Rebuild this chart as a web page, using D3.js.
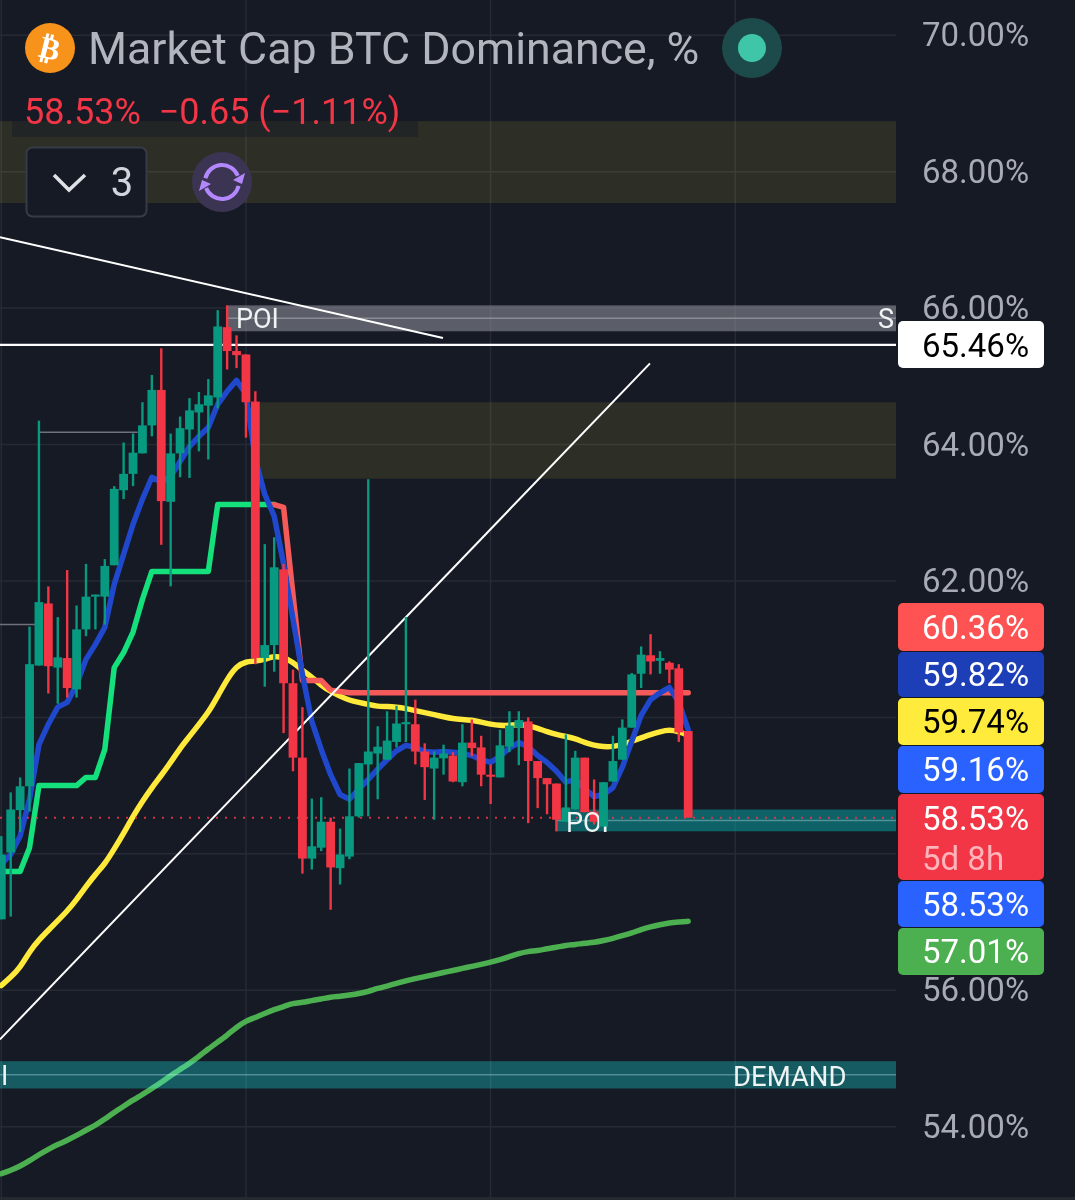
<!DOCTYPE html>
<html>
<head>
<meta charset="utf-8">
<script src="https://cdn.jsdelivr.net/npm/d3@7"></script>
<style>
body { margin: 0; background: #161a25; }
svg { display: block; font-family: Roboto, sans-serif; }
</style>
</head>
<body>
<svg id="chart" width="1075" height="1200"></svg>
<script>
// candles, one per period (percent)
var opens = [57.04,58.02,58.64,58.99,60.76,61.67,60.73,60.87,60.41,61.29,61.77,61.77,62.23,63.33,63.57,63.87,64.28,64.80,63.16,63.87,64.22,64.47,64.57,64.69,65.72,65.37,65.32,64.63,60.87,61.06,62.17,60.50,59.41,57.93,58.09,58.47,57.79,57.96,58.55,59.31,59.47,59.38,59.64,59.90,59.90,59.50,59.25,59.40,59.44,59.05,59.63,59.56,59.16,59.12,59.57,59.85,59.94,59.36,59.11,59.03,58.47,58.65,59.41,58.62,58.40,59.06,59.38,59.85,60.64,60.91,60.83,60.80,60.72,59.80];
var highs = [58.26,58.90,59.12,61.33,64.35,61.92,61.47,62.16,61.64,62.25,61.80,62.32,63.39,64.03,64.16,64.62,65.02,65.41,64.16,64.41,64.68,64.77,64.96,65.97,66.04,65.60,65.32,64.78,62.54,62.64,62.25,60.70,60.15,58.81,58.83,58.53,58.37,59.25,59.33,63.49,59.87,60.09,60.17,61.47,60.26,59.62,59.50,59.60,59.49,59.90,59.97,59.73,59.31,59.82,60.09,60.09,60.00,59.36,59.11,59.03,59.75,59.51,59.41,59.09,59.05,59.73,59.97,60.65,61.04,61.22,60.97,60.82,60.78,59.80];
var lows = [57.04,57.08,58.32,58.62,60.76,60.35,60.20,60.29,60.29,61.19,61.29,61.36,62.23,63.20,63.39,63.87,64.12,62.53,61.92,63.52,63.51,63.90,63.78,64.53,65.10,65.12,64.10,60.78,60.45,60.67,59.77,59.21,57.71,57.77,58.04,57.18,57.55,57.92,58.53,58.55,58.80,59.38,59.56,59.64,59.31,58.79,58.50,59.16,59.05,58.99,59.43,58.99,58.73,59.12,59.49,59.30,58.45,58.67,58.58,58.33,58.47,58.65,58.61,58.43,58.40,59.06,59.38,59.85,60.43,60.63,60.64,60.50,59.64,58.53];
var closes = [57.99,58.65,58.99,60.78,61.69,60.75,60.88,60.43,61.29,61.77,61.80,62.22,63.35,63.57,63.88,64.28,64.80,63.17,63.87,64.24,64.50,64.59,64.72,65.73,65.37,65.31,64.62,60.87,61.06,62.20,60.50,59.41,57.93,58.11,58.47,57.80,57.99,58.55,59.33,59.50,59.57,59.66,59.91,59.93,59.50,59.27,59.41,59.47,59.06,59.63,59.55,59.16,59.13,59.59,59.88,59.96,59.36,59.11,59.02,58.50,58.68,59.41,58.61,58.47,59.05,59.36,59.85,60.63,60.92,60.82,60.87,60.70,59.78,58.53];

// moving averages
var blueMA = [57.85,57.99,58.26,58.80,59.60,59.90,60.15,60.22,60.48,60.85,61.07,61.32,61.95,62.39,62.83,63.20,63.52,63.45,63.53,63.75,63.97,64.12,64.25,64.59,64.78,64.94,64.74,63.78,63.27,62.95,62.25,61.44,60.63,59.94,59.53,59.16,58.87,58.80,58.95,59.09,59.24,59.38,59.51,59.59,59.56,59.50,59.49,59.50,59.49,59.47,59.44,59.38,59.34,59.43,59.55,59.63,59.57,59.44,59.34,59.21,59.05,59.09,58.95,58.84,58.87,58.97,59.27,59.65,60.03,60.26,60.36,60.44,60.22,59.82];
var yellowMA = [56.07,56.19,56.33,56.57,56.74,56.88,57.02,57.16,57.33,57.52,57.70,57.85,58.07,58.30,58.55,58.77,58.97,59.15,59.34,59.55,59.72,59.90,60.07,60.31,60.56,60.75,60.82,60.82,60.85,60.90,60.88,60.81,60.69,60.59,60.47,60.38,60.31,60.25,60.22,60.19,60.16,60.16,60.15,60.13,60.10,60.07,60.04,60.01,59.98,59.97,59.96,59.93,59.90,59.88,59.88,59.90,59.88,59.84,59.79,59.75,59.72,59.69,59.63,59.59,59.57,59.57,59.60,59.65,59.70,59.75,59.79,59.82,59.79,59.74];
var longMA = [53.31,53.36,53.42,53.50,53.59,53.67,53.74,53.80,53.87,53.95,54.02,54.11,54.21,54.30,54.39,54.47,54.56,54.65,54.75,54.84,54.93,55.03,55.14,55.24,55.34,55.46,55.55,55.60,55.66,55.72,55.76,55.81,55.82,55.85,55.87,55.90,55.91,55.93,55.95,55.98,56.03,56.06,56.10,56.14,56.17,56.20,56.23,56.26,56.29,56.32,56.35,56.38,56.41,56.45,56.49,56.54,56.57,56.58,56.61,56.63,56.66,56.67,56.69,56.70,56.73,56.76,56.80,56.84,56.89,56.93,56.96,56.99,57.00,57.01];

// trailing stop, green while below price, red after it flips (starts at candle 29)
var stopUp = [57.74,57.74,57.74,58.09,59.00,59.00,59.00,59.00,59.00,59.12,59.12,59.53,60.73,60.95,61.25,61.73,62.14,62.14,62.14,62.14,62.14,62.14,62.14,63.12,63.12,63.12,63.12,63.12,63.12,63.12];
var stopDown = [63.12,63.08,61.80,60.54,60.54,60.54,60.40,60.38,60.36,60.36,60.36,60.36,60.36,60.36,60.36,60.36,60.36,60.36,60.36,60.36,60.36,60.36,60.36,60.36,60.36,60.36,60.36,60.36,60.36,60.36,60.36,60.36,60.36,60.36,60.36,60.36,60.36,60.36,60.36,60.36,60.36,60.36,60.36,60.36,60.36];

var gridTicks = [70,68,66,64,62,60,58,56,54];
var axisTicks = [70,68,66,64,62,56,54];	// 60 and 58 sit behind the tags
var gridIdx = [0,26,52,78];

// zones: start candle, top and bottom value
var zoneOlive = [[-1,68.74,67.54],[27,64.62,63.50]];
var zoneGrey = [[24,66.04,65.66]];
var zoneTeal = [[58.9,58.65,58.33]];
var zoneDemand = [[-1,54.96,54.56]];

// drawn lines: [idx1, val1, idx2, val2]
var whiteLines = [[-0.14,67.04,46.94,65.56],[-0.14,55.28,68.94,65.19]];
var greyLines = [[4,64.18,14.5,64.18],[-0.14,61.36,3.6,61.36]];
var lastHigh = 65.46;
var lastClose = 58.53;

// axis tags: label, color, text color, top, bottom
var tagLabels = ["60.36%","59.82%","59.74%","59.16%","58.53%","58.53%","57.01%"];
var tagColors = ["#ff5252","#1c3fb8","#ffeb3b","#2962ff","#f23645","#2962ff","#4caf50"];
var tagText = ["#fff","#fff","#000","#fff","#fff","#fff","#fff"];
var tagTops = [603,652,698,746,794,881,928];
var tagBottoms = [651,697,745,793,880,927,975];

var bg = "#161a25", up = "#089981", down = "#f23645", gridCol = "#262a35";
var plotRight = 896;
var tagFont = 33;

var svg = d3.select("#chart");
var x = d3.scaleLinear().domain([0,73]).range([1.3,688.2]);
var y = d3.scaleLinear().domain([54,70]).range([1126.7,35.2]);

svg.append("rect").attr("width",1075).attr("height",1200).attr("fill",bg);

// grid
svg.append("g").selectAll("line").data(gridTicks).join("line")
	.attr("x1",0).attr("x2",plotRight).attr("y1",d=>y(d)).attr("y2",d=>y(d))
	.attr("stroke",gridCol).attr("stroke-width",1.5);
svg.append("g").selectAll("line").data(gridIdx).join("line")
	.attr("x1",d=>x(d)).attr("x2",d=>x(d)).attr("y1",0).attr("y2",1200)
	.attr("stroke",gridCol).attr("stroke-width",1.5);

function drawZones(data, fill, opacity, midCol, blend){
	var g = svg.append("g");
	if(blend) g.style("mix-blend-mode",blend);
	g.selectAll("rect").data(data).join("rect")
		.attr("x",d=>Math.max(0,x(d[0]))).attr("y",d=>y(d[1]))
		.attr("width",d=>plotRight-Math.max(0,x(d[0]))).attr("height",d=>y(d[2])-y(d[1]))
		.attr("fill",fill).attr("opacity",opacity);
	if(midCol){
		g.selectAll("line").data(data).join("line")
			.attr("x1",d=>Math.max(0,x(d[0]))).attr("x2",plotRight)
			.attr("y1",d=>y((d[1]+d[2])/2)).attr("y2",d=>y((d[1]+d[2])/2))
			.attr("stroke",midCol).attr("stroke-width",1.5);
	}
}
drawZones(zoneOlive,"#ffeb3b",0.1);
drawZones(zoneGrey,"#9598a1",0.55,"#8a8c94");

// thin grey lines
svg.append("g").selectAll("line").data(greyLines).join("line")
	.attr("x1",d=>x(d[0])).attr("y1",d=>y(d[1])).attr("x2",d=>x(d[2])).attr("y2",d=>y(d[3]))
	.attr("stroke","#6f727c").attr("stroke-width",1.5);

// indicators
function drawLine(values, start, color, width, curve){
	svg.append("path").datum(values)
		.attr("fill","none").attr("stroke",color).attr("stroke-width",width)
		.attr("stroke-linejoin","round").attr("stroke-linecap","round")
		.attr("d",d3.line().x((d,i)=>x(i+start)).y(d=>y(d)).curve(curve || d3.curveLinear));
}
drawLine(longMA,0,"#4caf50",5.5,d3.curveBasis);
drawLine(yellowMA,0,"#ffe93b",5.5,d3.curveBasis);
drawLine(stopUp,0,"#14e07c",5.5);
drawLine(stopDown,29,"#f55a5a",5.5);
drawLine(blueMA,0,"#1f48cc",5.5);

drawZones(zoneTeal,"#0a9c9c",0.55,"#4f9297");
drawZones(zoneDemand,"#004846",1,"#3f7f85","screen");

svg.append("line").attr("x1",0).attr("x2",plotRight).attr("y1",y(lastClose)).attr("y2",y(lastClose))
	.attr("stroke",down).attr("stroke-width",2).attr("stroke-dasharray","2 7").attr("opacity",0.85);

// white drawings
svg.append("g").selectAll("line").data(whiteLines).join("line")
	.attr("x1",d=>x(d[0])).attr("y1",d=>y(d[1])).attr("x2",d=>x(d[2])).attr("y2",d=>y(d[3]))
	.attr("stroke","#fff").attr("stroke-width",2);
svg.append("line").attr("x1",0).attr("x2",plotRight).attr("y1",y(lastHigh)).attr("y2",y(lastHigh))
	.attr("stroke","#fff").attr("stroke-width",2.4);

// candles
var candles = opens.map((o,i)=>({i:i,o:o,h:highs[i],l:lows[i],c:closes[i]}));
function drawCandles(data){
	var g = svg.append("g").selectAll("g").data(data).join("g")
		.attr("fill",d=>d.c>=d.o?up:down).attr("stroke",d=>d.c>=d.o?up:down);
	g.append("line").attr("x1",d=>x(d.i)).attr("x2",d=>x(d.i))
		.attr("y1",d=>y(d.h)).attr("y2",d=>y(d.l)).attr("stroke-width",2.4);
	g.append("rect").attr("x",d=>x(d.i)-4.4).attr("width",8.8).attr("stroke","none")
		.attr("y",d=>y(Math.max(d.o,d.c)))
		.attr("height",d=>Math.max(2,Math.abs(y(d.o)-y(d.c))));
}
drawCandles(candles.slice(0,64));

// zone labels
function zoneText(txt, px, py, size){
	svg.append("text").attr("x",px).attr("y",py).attr("dy","0.36em")
		.attr("fill","#eef3f4").attr("font-size",size).text(txt);
}
zoneText("POI",236,318,27);
zoneText("S",878,318,27);
zoneText("POI",566,822,27);
zoneText("DEMAND",733,1076,27.5);
zoneText("I",1,1075,27);
drawCandles(candles.slice(64));

// price axis
var axis = d3.axisRight(y).tickValues(axisTicks).tickSize(0).tickPadding(0).tickFormat(d=>d.toFixed(2)+"%");
var axisG = svg.append("g").attr("transform","translate(922,0)").call(axis);
axisG.select(".domain").remove();
axisG.selectAll("text").attr("font-family","Roboto, sans-serif").attr("font-size",tagFont).attr("fill","#a8abb6");

// last high tag
svg.append("rect").attr("x",898).attr("y",321).attr("width",146).attr("height",47).attr("rx",5).attr("fill","#fff");
svg.append("text").attr("x",922).attr("y",345).attr("dy","0.35em").attr("font-size",tagFont).attr("fill","#000").text(lastHigh.toFixed(2)+"%");

// axis tags
var tags = svg.append("g").selectAll("g").data(tagLabels).join("g");
tags.append("rect").attr("x",898).attr("width",146).attr("rx",5)
	.attr("y",(d,i)=>tagTops[i]).attr("height",(d,i)=>tagBottoms[i]-tagTops[i])
	.attr("fill",(d,i)=>tagColors[i]);
tags.append("text").attr("x",922).attr("font-size",tagFont).attr("dy","0.35em")
	.attr("y",(d,i)=>i==4?818:(tagTops[i]+tagBottoms[i])/2)
	.attr("fill",(d,i)=>tagText[i]).text(d=>d);
svg.append("text").attr("x",922).attr("y",858).attr("dy","0.35em").attr("font-size",tagFont)
	.attr("fill","#ffb3ba").text("5d 8h");

// legend header
svg.append("rect").attr("x",12).attr("y",80).attr("width",406).attr("height",57).attr("fill",bg).attr("opacity",0.45);
svg.append("circle").attr("cx",50).attr("cy",48).attr("r",25).attr("fill","#f7931a");
svg.append("text").attr("x",50).attr("y",48).attr("dy","0.36em").attr("text-anchor","middle")
	.attr("font-family","DejaVu Sans").attr("font-weight","bold").attr("font-size",31).attr("fill","#fff")
	.attr("transform","rotate(14 50 48)").text("\u20BF");
svg.append("text").attr("x",88).attr("y",48).attr("dy","0.36em").attr("font-size",44.7).attr("fill","#b2b5be")
	.text("Market Cap BTC Dominance, %");
svg.append("text").attr("x",24).attr("y",111).attr("dy","0.36em").attr("font-size",36).attr("fill",down)
	.style("white-space","pre").text("58.53%  \u22120.65 (\u22121.11%)");

// live dot
svg.append("circle").attr("cx",752).attr("cy",48).attr("r",30).attr("fill","#1d4a4a");
svg.append("circle").attr("cx",752).attr("cy",48).attr("r",14).attr("fill","#3fc5a8");

// indicators button
svg.append("rect").attr("x",26.5).attr("y",147.5).attr("width",120).attr("height",69).attr("rx",6)
	.attr("fill",bg).attr("stroke","#373b46").attr("stroke-width",2);
svg.append("path").attr("d","M54 175L69 190L85 175").attr("fill","none").attr("stroke","#dfe1e6").attr("stroke-width",3.6);
svg.append("text").attr("x",122).attr("y",182).attr("dy","0.36em").attr("text-anchor","middle")
	.attr("font-size",40).attr("fill","#d1d4dc").text("3");

// sync icon
svg.append("circle").attr("cx",222).attr("cy",182).attr("r",30).attr("fill","#3b3553");
var syncArc = d3.arc().innerRadius(15).outerRadius(19);
var syncG = svg.append("g").attr("transform","translate(222,182)").attr("fill","#b388ff");
syncG.append("path").attr("d",syncArc({startAngle:-1.35,endAngle:1.2}));
syncG.append("path").attr("d",syncArc({startAngle:1.8,endAngle:4.35}));
syncG.append("path").attr("d","M11 -2L23 -9L20 2Z");
syncG.append("path").attr("d","M-11 2L-23 9L-20 -2Z");

// bottom edge of the plot
svg.append("rect").attr("x",0).attr("y",1197).attr("width",1075).attr("height",3).attr("fill","#262a30");
</script>
</body>
</html>
